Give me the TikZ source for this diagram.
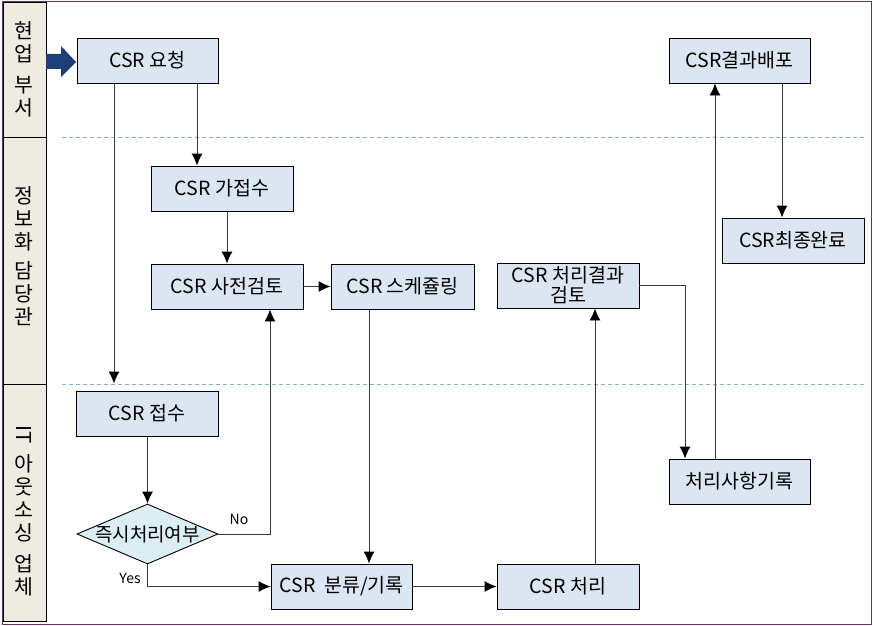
\documentclass[tikz,border=0pt]{standalone}
\usepackage{fontspec}
\setmainfont{Noto Sans CJK KR}
\usetikzlibrary{shapes.geometric,arrows.meta}
\definecolor{boxfill}{HTML}{DCE6F2}
\definecolor{diafill}{HTML}{DAEEF3}
\definecolor{lanefill}{HTML}{EEECE1}
\definecolor{framecol}{HTML}{6F2F6F}
\definecolor{sepcol}{HTML}{8FAACB}
\definecolor{navy}{HTML}{1F3E79}
\definecolor{conn}{HTML}{3A3A3A}
\begin{document}
\begin{tikzpicture}[x=1pt,y=-1pt,
  box/.style={draw=black, line width=0.9pt, fill=boxfill, minimum height=45pt,
    inner sep=0pt, font=\fontsize{19.5}{22}\selectfont},
  arr/.style={draw=conn, line width=0.9pt, -{Latex[length=12pt,width=11pt,color=black]}},
  lanetxt/.style={align=center, inner sep=0pt, font=\fontsize{20.5}{23}\selectfont},
  sepline/.style={draw=sepcol, line width=0.8pt, dash pattern=on 4pt off 3pt},
  yn/.style={inner sep=0pt, font=\fontsize{14}{16}\selectfont}]
\useasboundingbox (0,0) rectangle (873,626);
% frame and lane column
\draw[framecol, line width=1pt] (2,2) rectangle (871,624);
\draw[fill=lanefill, line width=0.9pt] (3,2) rectangle (46,621);
\draw[line width=0.9pt] (3,137) -- (46,137);
\draw[line width=0.9pt] (3,384) -- (46,384);
\node[lanetxt] (lane1) at (24,69.5) {현\\업\\[8pt]부\\서};
\node[lanetxt] (lane2) at (24,256) {정\\보\\화\\[6pt]담\\당\\관};
\node[lanetxt] (lane3) at (24,511) {\rotatebox{-90}{IT}\\[10pt]아\\웃\\소\\싱\\[8pt]업\\체};
% separators
\draw[sepline] (62,137) -- (865,137);
\draw[sepline] (62,384) -- (865,384);
% entry arrow
\fill[navy] (46,54) -- (61,54) -- (61,46) -- (76,62) -- (61,77) -- (61,69) -- (46,69) -- cycle;
% nodes
\node[box, minimum width=141pt] (req) at (147.5,60.5) {CSR 요청};
\node[box, minimum width=142pt] (pre) at (222,188.5) {CSR 가접수};
\node[box, minimum width=152pt] (rev) at (227,286.5) {CSR 사전검토};
\node[box, minimum width=143pt] (sch) at (402.5,286.5) {CSR 스케쥴링};
\node[box, minimum width=142pt, align=center] (chk) at (568,285.5) {CSR 처리결과\\[-2pt]검토};
\node[box, minimum width=141pt] (dist) at (739.5,60.5) {CSR결과배포};
\node[box, minimum width=142pt] (fin) at (793,240.5) {CSR최종완료};
\node[box, minimum width=142pt] (rcv) at (147,413.5) {CSR 접수};
\node[diamond, draw=black, line width=0.9pt, fill=diafill, inner sep=0pt,
  minimum width=141pt, minimum height=60pt, aspect=2.35,
  font=\fontsize{19}{22}\selectfont] (dec) at (147.5,534) {\makebox[0pt]{즉시처리여부}};
\node[box, minimum width=141pt] (cls) at (341.5,586.5) {CSR~~분류/기록};
\node[box, minimum width=142pt] (proc) at (568,586.5) {CSR 처리};
\node[box, minimum width=141pt] (rec) at (739.5,481.5) {처리사항기록};
% helper coordinates
\coordinate (a1) at ([xshift=49.5]req.south);
\coordinate (a2) at ([xshift=-33.5]req.south);
\coordinate (a5) at ([xshift=-33.5]sch.south);
\coordinate (a7) at ([xshift=43]rev.south);
\coordinate (a10) at ([xshift=27]proc.north);
\coordinate (a11) at ([xshift=-54.5]rec.north);
\coordinate (a12) at ([xshift=-24.5]rec.north);
\coordinate (a13) at ([xshift=42.5]dist.south);
% connectors
\draw[arr] (a1) -- (a1 |- pre.north);
\draw[arr, shorten >=7pt] (a2) -- (a2 |- rcv.north);
\draw[arr] (rev.north |- pre.south) -- (rev.north);
\draw[arr] (rev.east) -- (sch.west);
\draw[arr] (a5) -- (a5 |- cls.north);
\draw[arr] (dec.north |- rcv.south) -- (dec.north);
\draw[arr] (dec.east) -| (a7);
\draw[arr] (dec.south) |- (cls.west);
\draw[arr] (cls.east) -- (proc.west);
\draw[arr] (a10) -- (a10 |- chk.south);
\draw[arr] (chk.east) -| (a11);
\draw[arr] (a12) -- (a12 |- dist.south);
\draw[arr] (a13) -- (a13 |- fin.north);
% labels
\node[yn] (lno) at (239,519) {No};
\node[yn] (lyes) at (130,578) {Yes};
\end{tikzpicture}
\end{document}
